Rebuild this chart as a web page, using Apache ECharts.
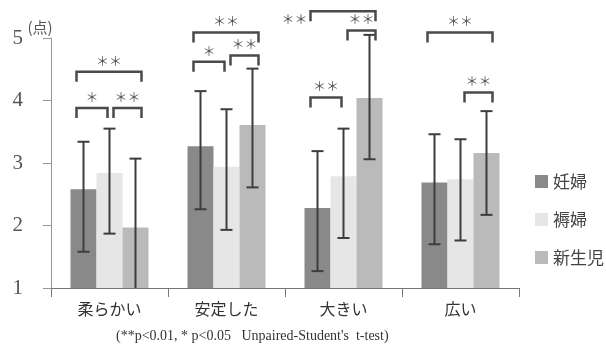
<!DOCTYPE html>
<html><head><meta charset="utf-8">
<script src="https://cdn.jsdelivr.net/npm/echarts@6/dist/echarts.min.js"></script>
<style>html,body{margin:0;padding:0;background:#fff}#c{width:606px;height:347px}</style>
</head><body><div id="c"></div>
<script>
const categories = ['柔らかい', '安定した', '大きい', '広い'];
const seriesNames = ['妊婦', '褥婦', '新生児'];
const meanPreg = [2.58, 3.27, 2.28, 2.69];
const upperPreg = [3.34, 4.15, 3.19, 3.46];
const lowerPreg = [1.58, 2.26, 1.27, 1.70];
const meanPost = [2.84, 2.94, 2.79, 2.74];
const upperPost = [3.55, 3.86, 3.55, 3.38];
const lowerPost = [1.87, 1.93, 1.80, 1.76];
const meanBaby = [1.97, 3.61, 4.04, 3.16];
const upperBaby = [3.07, 4.51, 5.05, 3.83];
const lowerBaby = [0.87, 2.61, 3.06, 2.17];
const yTicks = [1, 2, 3, 4, 5];
// significance brackets: [category, fromSeries, toSeries, bracket level, mark]
const sigBrackets = [
  [0, 0, 1, 3.88, '＊'], [0, 1, 2, 3.88, '＊＊'], [0, 0, 2, 4.46, '＊＊'],
  [1, 0, 1, 4.62, '＊'], [1, 1, 2, 4.72, '＊＊'], [1, 0, 2, 5.09, '＊＊'],
  [2, 0, 1, 4.05, '＊＊'], [2, 1, 2, 5.12, '＊＊'], [2, 0, 2, 5.43, '＊＊'],
  [3, 1, 2, 4.13, '＊＊'], [3, 0, 2, 5.09, '＊＊']
];
const footnote = '(**p<0.01, * p<0.05   Unpaired-Student\'s  t-test)';

const BAR_W = 26;
const colors = ['#898989', '#e6e6e6', '#bababa'];
const means = [meanPreg, meanPost, meanBaby];
const lowers = [lowerPreg, lowerPost, lowerBaby];
const uppers = [upperPreg, upperPost, upperBaby];
const CJK = '"Noto Sans CJK JP", "Noto Sans CJK SC", sans-serif';
const SERIF = '"Liberation Serif", "DejaVu Serif", serif';
const ERR_COLOR = '#3d3d3d';

function errorSeries(idx) {
  const lo = lowers[idx], hi = uppers[idx];
  return {
    type: 'custom', name: seriesNames[idx] + ' SD', clip: false, z: 5, silent: true,
    data: categories.map((c, i) => [i, lo[i], hi[i]]),
    encode: { x: 0, y: [1, 2] },
    renderItem(params, api) {
      const ci = api.value(0);
      const yMin = yTicks[0];
      const lowV = api.value(1);
      const top = api.coord([ci, api.value(2)]);
      const bot = api.coord([ci, Math.max(lowV, yMin)]);
      const x = top[0] + (idx - 1) * BAR_W;
      const half = 6;
      const st = { stroke: ERR_COLOR, lineWidth: 2 };
      const ch = [
        { type: 'line', shape: { x1: x, y1: top[1], x2: x, y2: bot[1] }, style: st },
        { type: 'line', shape: { x1: x - half, y1: top[1], x2: x + half, y2: top[1] }, style: st }
      ];
      if (lowV >= yMin) ch.push({ type: 'line', shape: { x1: x - half, y1: bot[1], x2: x + half, y2: bot[1] }, style: st });
      return { type: 'group', children: ch };
    }
  };
}

const bracketSeries = {
  type: 'custom', name: 'sig', clip: false, z: 6, silent: true,
  data: sigBrackets.map(b => [b[0], b[1], b[2], b[3]]),
  encode: { x: 0, y: 3 },
  renderItem(params, api) {
    const ci = api.value(0), from = api.value(1), to = api.value(2), lvl = api.value(3);
    const p = api.coord([ci, lvl]);
    const cFrom = p[0] + (from - 1) * BAR_W;
    const cTo = p[0] + (to - 1) * BAR_W;
    const left = cFrom + (from > 0 ? 4 : -7);
    const right = cTo + (to < 2 ? -2 : 6);
    const y = p[1], leg = 10;
    const st = { stroke: '#4a4a4a', lineWidth: 2.5, fill: null, lineJoin: 'miter' };
    const mark = sigBrackets[params.dataIndex][4];
    const labelLeft = lvl > 5.3;
    return {
      type: 'group', children: [
        { type: 'polyline', shape: { points: [[left, y + leg], [left, y], [right, y], [right, y + leg]] }, style: st },
        { type: 'text', style: labelLeft ? {
            text: mark, x: left - 3, y: y + 8, align: 'right', verticalAlign: 'middle',
            font: '13px ' + CJK, fill: '#555'
          } : {
            text: mark, x: (left + right) / 2, y: y - 11, align: 'center', verticalAlign: 'middle',
            font: '13px ' + CJK, fill: '#555'
          } }
      ]
    };
  }
};

const chart = echarts.init(document.getElementById('c'), null, { renderer: 'canvas' });
chart.setOption({
  animation: false,
  backgroundColor: '#fff',
  title: {
    text: footnote, left: 111, top: 324,
    textStyle: { fontFamily: SERIF, fontSize: 14, fontWeight: 'normal', color: '#333' }
  },
  legend: {
    data: seriesNames, orient: 'vertical', left: 530, top: 168,
    icon: 'rect', itemWidth: 13, itemHeight: 13, itemGap: 21,
    textStyle: { fontFamily: CJK, fontSize: 17, lineHeight: 17, color: '#444' }
  },
  grid: { left: 51, right: 87, top: 38, bottom: 59, containLabel: false },
  xAxis: {
    type: 'category', data: categories,
    axisLine: { lineStyle: { color: '#777', width: 1 } },
    axisTick: { show: true, length: 9, lineStyle: { color: '#777' } },
    axisLabel: { fontFamily: CJK, fontSize: 16, color: '#333', margin: 13 }
  },
  yAxis: {
    type: 'value', min: yTicks[0], max: yTicks[yTicks.length - 1], interval: 1,
    name: '(点)', nameLocation: 'end', nameGap: 3, nameMoveOverlap: false,
    nameTextStyle: { fontFamily: CJK, fontSize: 15, color: '#555', align: 'center', verticalAlign: 'bottom', padding: [0, 22, 0, 0] },
    axisLine: { show: true, lineStyle: { color: '#999', width: 1 } },
    axisTick: { show: true, length: 8, lineStyle: { color: '#999' } },
    splitLine: { show: false },
    axisLabel: { fontFamily: SERIF, fontSize: 21, color: '#555', margin: 28 }
  },
  series: [
    ...seriesNames.map((n, i) => ({
      type: 'bar', name: n, data: means[i], barWidth: BAR_W, barGap: '0%',
      itemStyle: { color: colors[i] }, z: 2
    })),
    errorSeries(0), errorSeries(1), errorSeries(2),
    bracketSeries
  ]
});
</script></body></html>
